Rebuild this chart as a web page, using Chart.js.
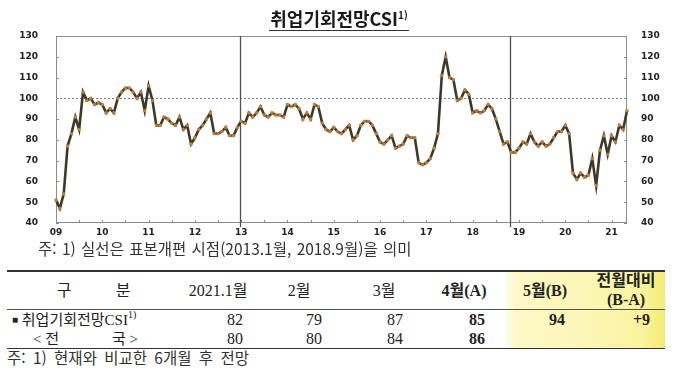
<!DOCTYPE html>
<html lang="ko">
<head>
<meta charset="utf-8">
<script src="https://cdn.jsdelivr.net/npm/chart.js@4.4.1/dist/chart.umd.min.js"></script>
<style>
  body { margin: 0; background: #fff; }
  #page { position: relative; width: 680px; height: 376px; overflow: hidden;
          font-family: "Noto Sans CJK KR", sans-serif; color: #222; }
  #chart { position: absolute; left: 0; top: 0; }
  .t { position: absolute; white-space: nowrap; line-height: 20px; }
  .serif { font-family: "Liberation Serif", "Noto Sans CJK KR", serif; }
  .b { font-weight: 700; }
  #title { position: absolute; left: 0; top: 5px; width: 678px; text-align: center;
           font-size: 18px; font-weight: 700; color: #1a1a1a; }
  #title span { border-bottom: 1.5px solid #333; padding: 0 1px 0; line-height: 23px; display: inline-block; }
  sup { font-size: 10px; vertical-align: 7px; line-height: 0; }
  .rule { position: absolute; left: 7px; width: 658px; background: #333; }
  #yellow { position: absolute; left: 505px; width: 160px; top: 271px; height: 77px;
            background: linear-gradient(to right, #fffdf2 0%, #fdf8c6 7%, #fcf6b6 50%, #fbf3a0 85%, #f4ec72 100%); }
</style>
</head>
<body>
<div id="page">
  <canvas id="chart" width="680" height="240"></canvas>
  <div id="title"><span>취업기회전망CSI<sup>1)</sup></span></div>
  <div class="t" style="left:38px; top:238px; font-size:15.5px; word-spacing:1px; color:#333;">주: 1) 실선은 표본개편 시점(2013.1월, 2018.9월)을 의미</div>
  <div id="yellow"></div>
  <div class="rule" style="top:270px; height:2px;"></div>
  <div class="rule" style="top:309px; height:1px; background:#555;"></div>
  <div class="rule" style="top:348px; height:1px;"></div>
  <div id="table"></div>
  <div class="t" style="left:7px; top:347px; font-size:15.5px; word-spacing:3px; color:#333;">주: 1) 현재와 비교한 6개월 후 전망</div>
</div>
<script>
// 취업기회전망CSI, monthly, 2009.1 ~ 2021.5
const years = ['09', '10', '11', '12', '13', '14', '15', '16', '17', '18', '19', '20', '21'];
const csi = [
  51, 47, 54, 77, 83, 91, 85, 103, 99, 100, 97, 98,      // 2009
  97, 93, 95, 93, 100, 103, 105, 105, 103, 100, 103, 94,  // 2010
  106, 99, 87, 87, 91, 90, 88, 87, 91, 85, 87, 78,        // 2011
  81, 85, 87, 90, 93, 83, 83, 84, 86, 82, 82, 86,         // 2012
  89, 88, 93, 91, 93, 96, 92, 91, 93, 92, 92, 91,         // 2013
  97, 96, 97, 95, 90, 93, 90, 97, 96, 88, 85, 84,         // 2014
  86, 84, 83, 85, 87, 80, 82, 87, 89, 89, 87, 83,         // 2015
  79, 78, 80, 82, 76, 77, 78, 82, 81, 81, 69, 68,         // 2016
  69, 71, 76, 83, 111, 120, 110, 109, 99, 100, 104, 102,  // 2017
  93, 94, 93, 94, 97, 95, 90, 84, 78, 79, 74, 74,         // 2018
  76, 79, 78, 83, 79, 77, 79, 77, 78, 81, 84, 84,         // 2019
  87, 83, 64, 61, 64, 62, 63, 71, 58, 75, 82, 73,         // 2020
  82, 79, 87, 85, 94                                      // 2021
];
const yTicks = [40, 50, 60, 70, 80, 90, 100, 110, 120, 130];
const refLevel = 100;
// sample-revision lines (category index, as placed in the original)
const breakAt = [47.7, 117.6];

// table
const tableHeads = ['2021.1월', '2월', '3월', '4월(A)', '5월(B)', '전월대비|(B-A)'];
const nationVals = [80, 80, 84, 86];

// monthly categories
const months = [];
years.forEach(y => { for (let m = 1; m <= 12; m++) months.push(y + '.' + m); });
months.length = csi.length;

const decor = {
  id: 'decor',
  beforeDatasetsDraw(chart) {
    const { ctx, chartArea: a, scales: { x, y } } = chart;
    ctx.save();
    // 100 line
    const yb = Math.round(y.getPixelForValue(refLevel)) + 0.5;
    ctx.strokeStyle = '#7376ad';
    ctx.lineWidth = 1;
    ctx.setLineDash([2, 2]);
    ctx.beginPath(); ctx.moveTo(a.left, yb); ctx.lineTo(a.right, yb); ctx.stroke();
    ctx.setLineDash([]);
    // frame
    ctx.strokeStyle = '#8c8c8c';
    ctx.strokeRect(a.left + 0.5, a.top + 0.5, a.width - 1, a.height - 1);
    // inward ticks
    ctx.beginPath();
    yTicks.forEach(v => {
      const py = Math.round(y.getPixelForValue(v)) + 0.5;
      ctx.moveTo(a.left, py); ctx.lineTo(a.left + 3, py);
      ctx.moveTo(a.right, py); ctx.lineTo(a.right - 3, py);
    });
    months.forEach((m, i) => {
      if (i % 6 !== 0) return;
      const px = Math.round(x.getPixelForValue(i)) + 0.5;
      ctx.moveTo(px, a.bottom); ctx.lineTo(px, a.bottom - 3);
    });
    ctx.stroke();
    // sample revision lines
    ctx.strokeStyle = '#505050';
    ctx.lineWidth = 1.3;
    breakAt.forEach(i => {
      const px = Math.round(x.getPixelForValue(i)) + 0.5;
      ctx.beginPath(); ctx.moveTo(px, a.top); ctx.lineTo(px, a.bottom + 4); ctx.stroke();
    });
    ctx.restore();
  }
};

const tickFont = { family: 'DejaVu Sans', size: 9, weight: 'bold' };

// fixed axis boxes so the plot area lands where the original has it
function fixY(width) {
  return s => { s.width = width; s.paddingTop = 0; s.paddingBottom = 0; };
}

new Chart(document.getElementById('chart').getContext('2d'), {
  type: 'line',
  data: {
    labels: months,
    datasets: [{
      data: csi,
      borderColor: '#3b3a2a',
      borderWidth: 2.6,
      tension: 0,
      pointStyle: 'rect',
      pointRadius: 1.8,
      pointBackgroundColor: '#c3803c',
      pointBorderColor: '#c3803c',
      pointBorderWidth: 0.5
    }]
  },
  options: {
    responsive: false,
    animation: false,
    devicePixelRatio: 1,
    layout: { padding: { top: 36 } },
    plugins: { legend: { display: false }, tooltip: { enabled: false } },
    scales: {
      x: {
        offset: false,
        grid: { display: false, drawTicks: false },
        border: { display: false },
        ticks: {
          autoSkip: false, maxRotation: 0, padding: 4, color: '#222', font: tickFont,
          callback: (v, i) => months[i].endsWith('.1') ? months[i].split('.')[0] : ''
        },
        afterFit: s => { s.height = 17; }
      },
      y: {
        position: 'left',
        min: yTicks[0], max: yTicks[yTicks.length - 1],
        grid: { display: false, drawTicks: false },
        border: { display: false },
        ticks: { padding: 18, color: '#222', font: tickFont },
        afterBuildTicks: s => { s.ticks = yTicks.map(v => ({ value: v })); },
        afterFit: fixY(56)
      },
      y2: {
        position: 'right',
        min: yTicks[0], max: yTicks[yTicks.length - 1],
        grid: { display: false, drawTicks: false },
        border: { display: false },
        ticks: { padding: 14, color: '#222', font: tickFont },
        afterBuildTicks: s => { s.ticks = yTicks.map(v => ({ value: v })); },
        afterFit: fixY(53)
      }
    }
  },
  plugins: [decor]
});

// table text
const table = document.getElementById('table');
function place(html, x, yc, align, cls, size) {
  const d = document.createElement('div');
  d.className = 't ' + (cls || '');
  d.style.fontSize = (size || 16) + 'px';
  d.style.top = (yc - 10) + 'px';
  if (align === 'right') d.style.right = (680 - x) + 'px';
  else if (align === 'center') { d.style.left = x + 'px'; d.style.transform = 'translateX(-50%)'; }
  else d.style.left = x + 'px';
  d.innerHTML = html;
  table.appendChild(d);
}
const colCenter = [218, 299, 384, 464, 545, 626];
const colRight = [243, 322, 403, 485, 565, 650];
const boldCols = [3, 4, 5];

place('구', 64, 291, 'center', 'serif', 16);
place('분', 123, 291, 'center', 'serif', 16);
tableHeads.forEach((h, i) => {
  const cls = 'serif' + (boldCols.includes(i) ? ' b' : '');
  const parts = h.split('|');
  if (parts.length === 1) place(parts[0], colCenter[i], 291, 'center', cls, 16);
  else {
    place(parts[0], colCenter[i], 281, 'center', cls, 16);
    place(parts[1], colCenter[i], 300, 'center', cls, 16);
  }
});

const last5 = csi.slice(-5);
const diff = last5[4] - last5[3];
const csiRow = last5.concat([(diff > 0 ? '+' : '') + diff]);
place('<span style="font-size:10px;vertical-align:2px">■</span> 취업기회전망CSI<sup>1)</sup>', 12, 320, 'left', 'serif', 15);
csiRow.forEach((v, i) => place(String(v), colRight[i], 320, 'right', 'serif' + (boldCols.includes(i) ? ' b' : ''), 16));
place('&lt; 전', 33, 339, 'left', 'serif', 15);
place('국 &gt;', 112, 339, 'left', 'serif', 15);
nationVals.forEach((v, i) => place(String(v), colRight[i], 339, 'right', 'serif' + (boldCols.includes(i) ? ' b' : ''), 16));
</script>
</body>
</html>
